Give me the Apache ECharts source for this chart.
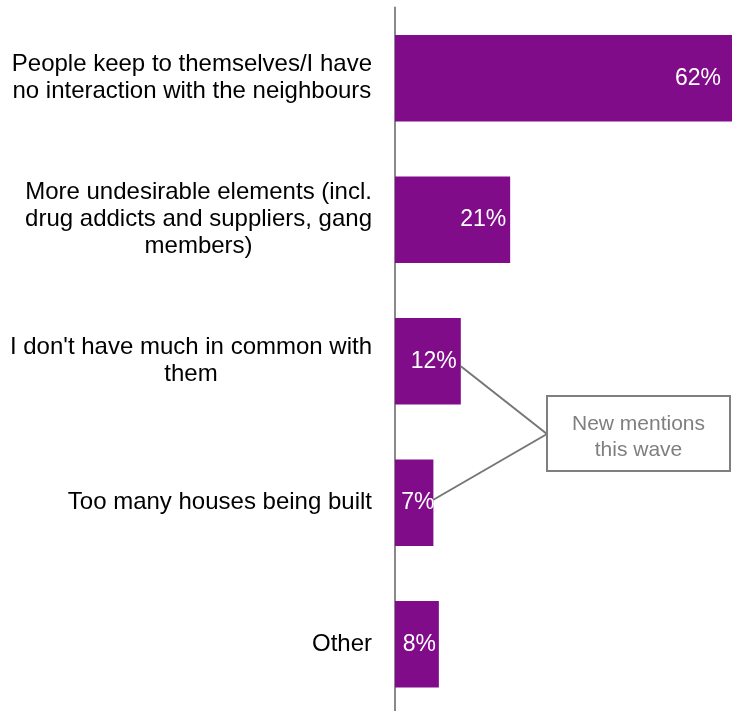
<!DOCTYPE html>
<html>
<head>
<meta charset="utf-8">
<script src="https://cdn.jsdelivr.net/npm/echarts@6/dist/echarts.min.js"></script>
<style>
  html, body { margin: 0; padding: 0; background: #ffffff; }
  #chart { width: 732px; height: 711px; }
</style>
</head>
<body>
<div id="chart"></div>
<script>
const categories = [
  'People keep to themselves/I have\nno interaction with the neighbours',
  'More undesirable elements (incl.\ndrug addicts and suppliers, gang\nmembers)',
  'I don\'t have much in common with\nthem',
  'Too many houses being built',
  'Other'
];
const values = [62, 21, 12, 7, 8];
const valueLabels = ['62%', '21%', '12%', '7%', '8%'];
const calloutText = 'New mentions\nthis wave';
const calloutTargets = [2, 3];

const FONT = '"Liberation Sans", Arial, sans-serif';
const chart = echarts.init(document.getElementById('chart'), null, { renderer: 'canvas' });

const labelDistance = function (i) {
  if (i === 0) return 14;
  if (i === 3) return -1;
  if (i === 4) return 3;
  return 4;
};
const seriesData = values.map(function (v, i) {
  return { value: v, label: { distance: labelDistance(i) } };
});

chart.setOption({
  animation: false,
  backgroundColor: '#ffffff',
  grid: { left: 395, right: -3, top: 7.5, height: 707.5, containLabel: false, outerBoundsMode: 'none' },
  xAxis: {
    type: 'value', min: 0, max: 62,
    show: false
  },
  yAxis: {
    type: 'category',
    data: categories,
    inverse: true,
    axisLine: { show: true, lineStyle: { color: '#898989', width: 2 } },
    axisTick: { show: false },
    splitLine: { show: false },
    axisLabel: {
      margin: 23,
      align: 'right',
      color: '#000000',
      fontFamily: FONT,
      fontSize: 24,
      lineHeight: 27,
      formatter: function (val) {
        return val.split('\n').map(function (l) { return '{c|' + l + '}'; }).join('\n');
      },
      rich: {
        c: { align: 'center', fontFamily: FONT, fontSize: 24, lineHeight: 27, color: '#000000' }
      }
    }
  },
  series: [{
    type: 'bar',
    data: seriesData,
    barCategoryGap: '39%',
    itemStyle: { color: '#800C8A' },
    clip: false,
    label: {
      show: true,
      position: 'insideRight',
      distance: 4,
      color: '#ffffff',
      fontFamily: FONT,
      fontSize: 23,
      formatter: function (p) { return valueLabels[p.dataIndex]; }
    }
  }]
});

// Callout annotation anchored to the bar ends via the chart's own scales
const boxX = 547, boxY = 396, boxW = 183, boxH = 75;
const joinX = boxX, joinY = boxY + boxH / 2 + 0.5;
const pA = chart.convertToPixel({ gridIndex: 0 }, [values[calloutTargets[0]], categories[calloutTargets[0]]]);
const pB = chart.convertToPixel({ gridIndex: 0 }, [values[calloutTargets[1]], categories[calloutTargets[1]]]);

chart.setOption({
  graphic: [
    {
      type: 'line', silent: true, z: 10,
      shape: { x1: pA[0], y1: pA[1] + 5, x2: joinX, y2: joinY },
      style: { stroke: '#767676', lineWidth: 2 }
    },
    {
      type: 'line', silent: true, z: 10,
      shape: { x1: pB[0], y1: pB[1] - 3, x2: joinX, y2: joinY },
      style: { stroke: '#767676', lineWidth: 2 }
    },
    {
      type: 'rect', silent: true, z: 10,
      shape: { x: boxX, y: boxY, width: boxW, height: boxH },
      style: { fill: '#ffffff', stroke: '#7f7f7f', lineWidth: 2 }
    },
    {
      type: 'text', silent: true, z: 11,
      x: boxX + boxW / 2, y: boxY + boxH / 2 + 4,
      style: {
        text: calloutText,
        fill: '#7f7f7f',
        font: '21px ' + FONT,
        lineHeight: 26,
        align: 'center',
        verticalAlign: 'middle'
      }
    }
  ]
});
</script>
</body>
</html>
